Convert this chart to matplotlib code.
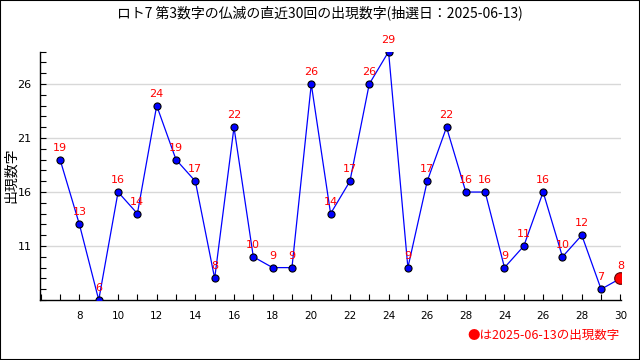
import matplotlib
matplotlib.use("Agg")
import matplotlib.pyplot as plt
from matplotlib.ticker import MultipleLocator

plt.rcParams['font.family'] = ['Noto Sans CJK JP', 'DejaVu Sans']

# data
draws = list(range(1, 31))
numbers = [19, 13, 6, 16, 14, 24, 19, 17, 8, 22, 10, 9, 9, 26, 14,
           17, 26, 29, 9, 17, 22, 16, 16, 9, 11, 16, 10, 12, 7, 8]
tick_pos = list(range(2, 31, 2))
tick_labels = ['8', '10', '12', '14', '16', '18', '20', '22', '24', '26',
               '28', '24', '26', '28', '30']
y_labels = [11, 16, 21, 26]
title = 'ロト7 第3数字の仏滅の直近30回の出現数字(抽選日：2025-06-13)'
note = '●は2025-06-13の出現数字'

fig = plt.figure(figsize=(6.4, 3.6), dpi=100)
ax = fig.add_axes([40/640, 60/360, 581/640, 248.3/360])

# frame round the whole picture
fig.patches.append(plt.Rectangle((0, 0), 1, 1, transform=fig.transFigure,
                                 fill=False, edgecolor='black', linewidth=1.5))

ax.plot(draws, numbers, color='blue', linewidth=0.9, zorder=2)
ax.scatter(draws[:-1], numbers[:-1], s=26, color='blue', edgecolor='black',
           linewidth=0.8, zorder=3)
ax.scatter(draws[-1:], numbers[-1:], s=70, color='red', edgecolor='#600000',
           linewidth=0.8, zorder=4)

for x, y in zip(draws, numbers):
    ax.annotate(str(y), (x, y), xytext=(0, 5), textcoords='offset points',
                ha='center', va='bottom', color='red', fontsize=8,
                family='DejaVu Sans')

ax.set_xlim(-0.04, 30.03)
ax.set_ylim(6, 29)
ax.set_xticks(tick_pos)
ax.set_xticklabels(tick_labels, fontsize=7.5, family='DejaVu Sans')
ax.xaxis.set_minor_locator(MultipleLocator(1))
ax.set_yticks(y_labels)
ax.set_yticklabels([str(v) for v in y_labels], fontsize=8, family='DejaVu Sans')
ax.yaxis.set_minor_locator(MultipleLocator(1))
ax.tick_params(axis='both', which='both', direction='in', color='black')
ax.tick_params(axis='both', which='major', length=4, width=0.8)
ax.tick_params(axis='both', which='minor', length=4, width=0.8)
ax.tick_params(axis='x', which='both', top=False, pad=8)
ax.tick_params(axis='y', which='both', right=False, pad=6)

ax.grid(axis='y', which='major', color='#d8d8d8', linewidth=1)
ax.set_axisbelow(True)
for s in ['top', 'right']:
    ax.spines[s].set_visible(False)
for s in ['left', 'bottom']:
    ax.spines[s].set_linewidth(1)

fig.text(11/640, 1 - 175/360, '出現数字', rotation=90, ha='center',
         va='center', fontsize=10)
fig.text(0.5, 1 - 13/360, title, ha='center', va='center', fontsize=10)
fig.text(620/640, 1 - 335/360, note, ha='right', va='center', fontsize=9,
         color='red')

fig.savefig('out.png', dpi=100)
